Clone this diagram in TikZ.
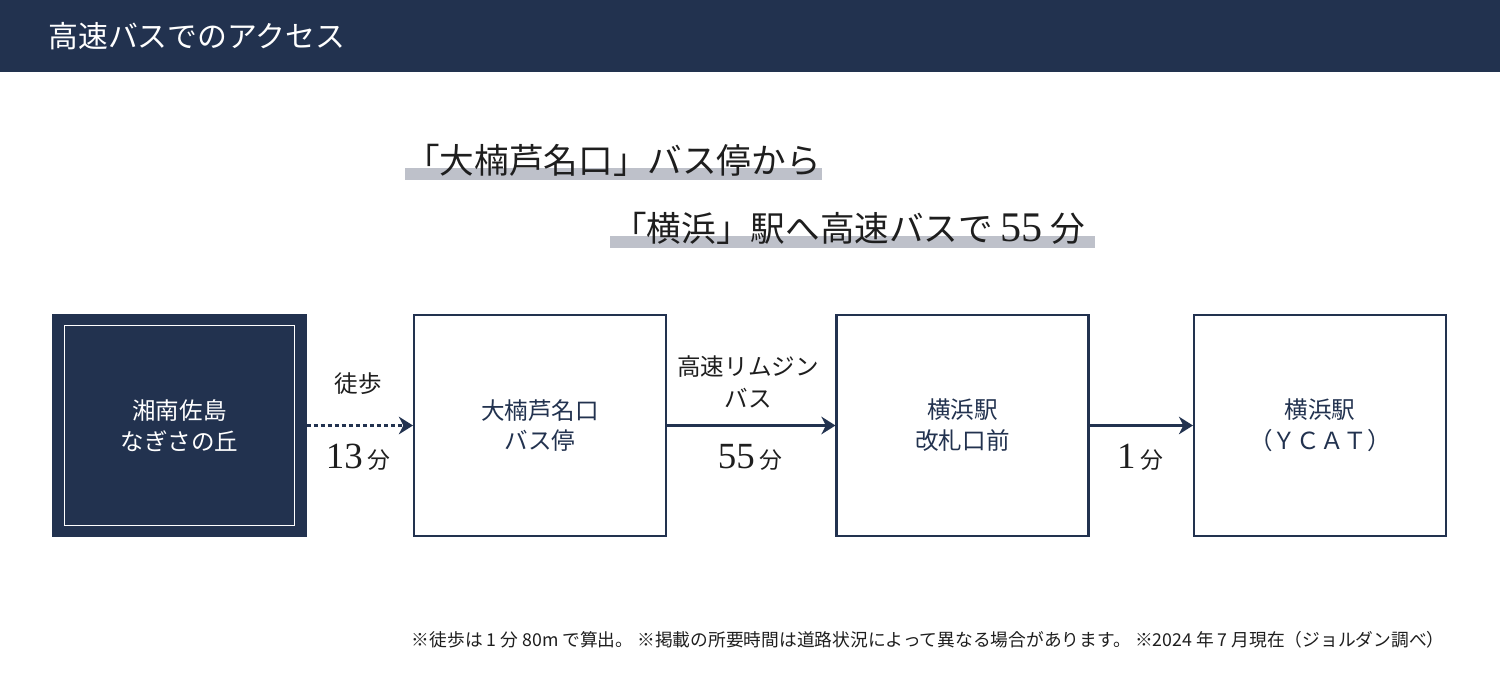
\documentclass[tikz,border=0pt]{standalone}
\usepackage{fontspec}
\setmainfont{Liberation Serif}
\newfontfamily\jpfont{Noto Sans CJK JP}
\usetikzlibrary{arrows.meta,positioning}
\definecolor{navy}{HTML}{22324F}
\definecolor{barfill}{HTML}{BEC1CA}
\definecolor{inkdark}{HTML}{1E1E1E}
\tikzset{
  stopbox/.style={draw=navy, line width=1.2pt, fill=white, minimum width=5.04cm,
    minimum height=4.42cm, align=center, text=navy, inner sep=0pt,
    font=\jpfont\fontsize{13.4}{17.6}\selectfont},
  homebox/.style={stopbox, fill=navy, text=white},
  edge/.style={-{Stealth[length=8pt,width=10pt,inset=2.5pt]}, navy, line width=1.4pt},
  walkedge/.style={edge, dash pattern=on 2.4pt off 1.6pt},
  ridelabel/.style={font=\jpfont\fontsize{13.4}{18}\selectfont, text=inkdark, align=center},
  timelabel/.style={text=inkdark, inner sep=0pt},
  headline/.style={font=\jpfont\fontsize{19.7}{24}\selectfont, text=inkdark, anchor=west, inner sep=0pt},
  hlbar/.style={fill=barfill, draw=none}
}
\newcommand{\mins}[1]{{\fontsize{21}{24}\selectfont #1}\hspace{0.25em}{\jpfont\fontsize{13}{16}\selectfont 分}}

\begin{document}
\begin{tikzpicture}[x=0.02cm, y=-0.02cm]
  \useasboundingbox (0,0) rectangle (1500,688);
  \fill[navy] (0,0) rectangle (1500,72);
  \node[anchor=west, text=white, inner sep=0pt, font=\jpfont\fontsize{17}{20}\selectfont] (title) at (48,36) {高速バスでのアクセス};

  \fill[hlbar] (405,168) rectangle (822,180);
  \fill[hlbar] (610,236) rectangle (1095,248);
  \node[headline] (head1) at (405,160) {「大楠芦名口」バス停から};
  \node[headline] (head2) at (612,228) {「横浜」駅へ高速バスで {\rmfamily\fontsize{24}{26}\selectfont 55} 分};

  \node[homebox] (home) at (179.5,425.5) {湘南佐島\\なぎさの丘};
  \draw[white, line width=0.6pt] ([shift={(0.24cm,-0.24cm)}]home.north west) rectangle ([shift={(-0.24cm,0.24cm)}]home.south east);
  \node[stopbox] (ashina) at (540,425.5) {大楠芦名口\\バス停};
  \node[stopbox] (yhstn) at (962.5,425.5) {横浜駅\\改札口前};
  \node[stopbox] (ycat) at (1320,425.5) {横浜駅\\（ＹＣＡＴ）};

  \draw[walkedge] (home) -- (ashina);
  \draw[edge] (ashina) -- (yhstn);
  \draw[edge] (yhstn) -- (ycat);

  \node[ridelabel] (walk) at (358,384) {徒歩};
  \node[timelabel] (walkmin) at (358,457) {\mins{13}};
  \node[ridelabel] (bus) at (748,382) {高速リムジン\\バス};
  \node[timelabel] (busmin) at (750,457) {\mins{55}};
  \node[timelabel] (transfer) at (1140,457) {\mins{1}};

  \node[anchor=east, inner sep=0pt, text=inkdark, font=\jpfont\fontsize{10.1}{12}\selectfont] (note) at (1445,640)
    {※徒歩は 1 分 80m で算出。 ※掲載の所要時間は道路状況によって異なる場合があります。 ※2024 年 7 月現在（ジョルダン調べ）};
\end{tikzpicture}
\end{document}
